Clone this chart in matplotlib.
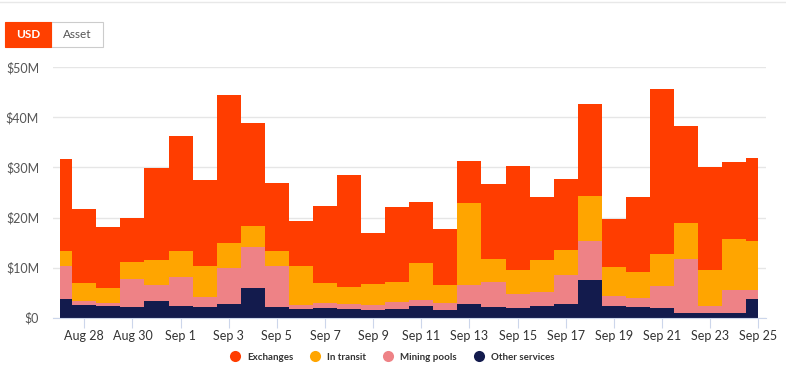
import matplotlib
matplotlib.use("Agg")
import matplotlib.pyplot as plt
from matplotlib.patches import Rectangle
from matplotlib.lines import Line2D
import numpy as np

plt.rcParams['font.family'] = ['Lato', 'DejaVu Sans']

days = ["Aug 27", "Aug 28", "Aug 29", "Aug 30", "Aug 31", "Sep 1", "Sep 2", "Sep 3",
        "Sep 4", "Sep 5", "Sep 6", "Sep 7", "Sep 8", "Sep 9", "Sep 10", "Sep 11",
        "Sep 12", "Sep 13", "Sep 14", "Sep 15", "Sep 16", "Sep 17", "Sep 18", "Sep 19",
        "Sep 20", "Sep 21", "Sep 22", "Sep 23", "Sep 24", "Sep 25"]

# cumulative tops (in $M)
total_top = [31.7, 21.8, 18.1, 20.0, 29.9, 36.3, 27.4, 44.4, 38.9, 26.8, 19.4, 22.4, 28.4, 17.0, 22.2,
             23.2, 17.8, 31.3, 26.7, 30.2, 24.2, 27.6, 42.6, 19.7, 24.2, 45.6, 38.2, 30.1, 31.0, 31.9]
transit_top = [13.4, 6.85, 5.9, 11.1, 11.6, 13.4, 10.3, 14.9, 18.4, 13.3, 10.3, 7.0, 6.05, 6.65, 7.05,
               10.9, 6.5, 23.0, 11.7, 9.5, 11.5, 13.5, 24.4, 10.1, 9.1, 12.7, 19.0, 9.6, 15.8, 15.3]
mining_top = [10.3, 3.3, 2.9, 7.8, 6.45, 8.05, 4.1, 10.0, 14.1, 10.4, 2.5, 2.9, 2.7, 2.6, 3.2,
              3.6, 2.86, 6.5, 7.2, 4.8, 5.1, 8.45, 15.3, 4.26, 3.86, 6.25, 11.7, 2.33, 5.6, 5.6]
other = [3.66, 2.6, 2.3, 2.06, 3.3, 2.3, 2.06, 2.8, 5.9, 2.06, 1.8, 1.86, 1.73, 1.46, 1.66,
         2.4, 1.53, 2.66, 2.06, 1.93, 2.4, 2.66, 7.5, 2.33, 2.06, 1.93, 0.86, 0.86, 0.93, 3.66]

series_names = ["Exchanges", "In transit", "Mining pools", "Other services"]
colors = ["#FF3D00", "#FFA500", "#EE8286", "#131B4D"]

y_ticks = [0, 10, 20, 30, 40, 50]
y_labels = ["$0", "$10M", "$20M", "$30M", "$40M", "$50M"]

x = np.arange(len(days))
tops = [np.array(total_top), np.array(transit_top), np.array(mining_top), np.array(other)]

fig = plt.figure(figsize=(7.86, 3.82), dpi=100)
ax = fig.add_axes([53/786, 1 - 317.7/382, (766-53)/786, (317.7-67.3)/382])

for top, c in zip(tops, colors):
    ax.fill_between(x, 0, top, step='mid', color=c, linewidth=0, zorder=2)

ax.set_xlim(-0.30, 29.32)
ax.set_ylim(0, 50)
ax.set_yticks(y_ticks)
ax.set_yticklabels(y_labels)
ax.grid(axis='y', color='#e6e6e6', linewidth=1, zorder=0)
for s in ['top', 'right', 'left']:
    ax.spines[s].set_visible(False)
ax.spines['bottom'].set_color('#ccd6eb')
ax.spines['bottom'].set_zorder(3)
ax.tick_params(axis='y', length=0, pad=10, labelsize=9, labelcolor='#555555')
tick_pos = x[1::2]
ax.set_xticks(tick_pos)
ax.set_xticklabels([days[i] for i in tick_pos])
ax.tick_params(axis='x', length=7, color='#ccd6eb', labelsize=9, labelcolor='#333333', pad=2)

# legend
handles = [Line2D([0], [0], marker='o', linestyle='', markersize=8, markerfacecolor=c,
                  markeredgewidth=0) for c in colors]
leg = fig.legend(handles, series_names, loc='center', bbox_to_anchor=(0.496, 1 - 357/382),
                 ncol=4, frameon=False, fontsize=7, handletextpad=0.2, columnspacing=1.3)
for t in leg.get_texts():
    t.set_color('#333333')
    t.set_fontweight('bold')

# top separator line
fig.add_artist(Line2D([0, 1], [1 - 1.5/382, 1 - 1.5/382], color='#e8e8e8', linewidth=1))

# USD / Asset buttons
fig.add_artist(Rectangle((51/786, 1 - 47/382), 52/786, 25/382, facecolor='white',
                         edgecolor='#cccccc', linewidth=0.8))
fig.add_artist(Rectangle((5/786, 1 - 47/382), 46/786, 25/382, facecolor='#FF4000',
                         edgecolor='#FF4000', linewidth=0.8))
fig.text(28/786, 1 - 34.5/382, "USD", ha='center', va='center', fontsize=8.5,
         color='white', fontweight='bold')
fig.text(77/786, 1 - 34.5/382, "Asset", ha='center', va='center', fontsize=8.5,
         color='#555555')

fig.savefig("out.png", dpi=100)
